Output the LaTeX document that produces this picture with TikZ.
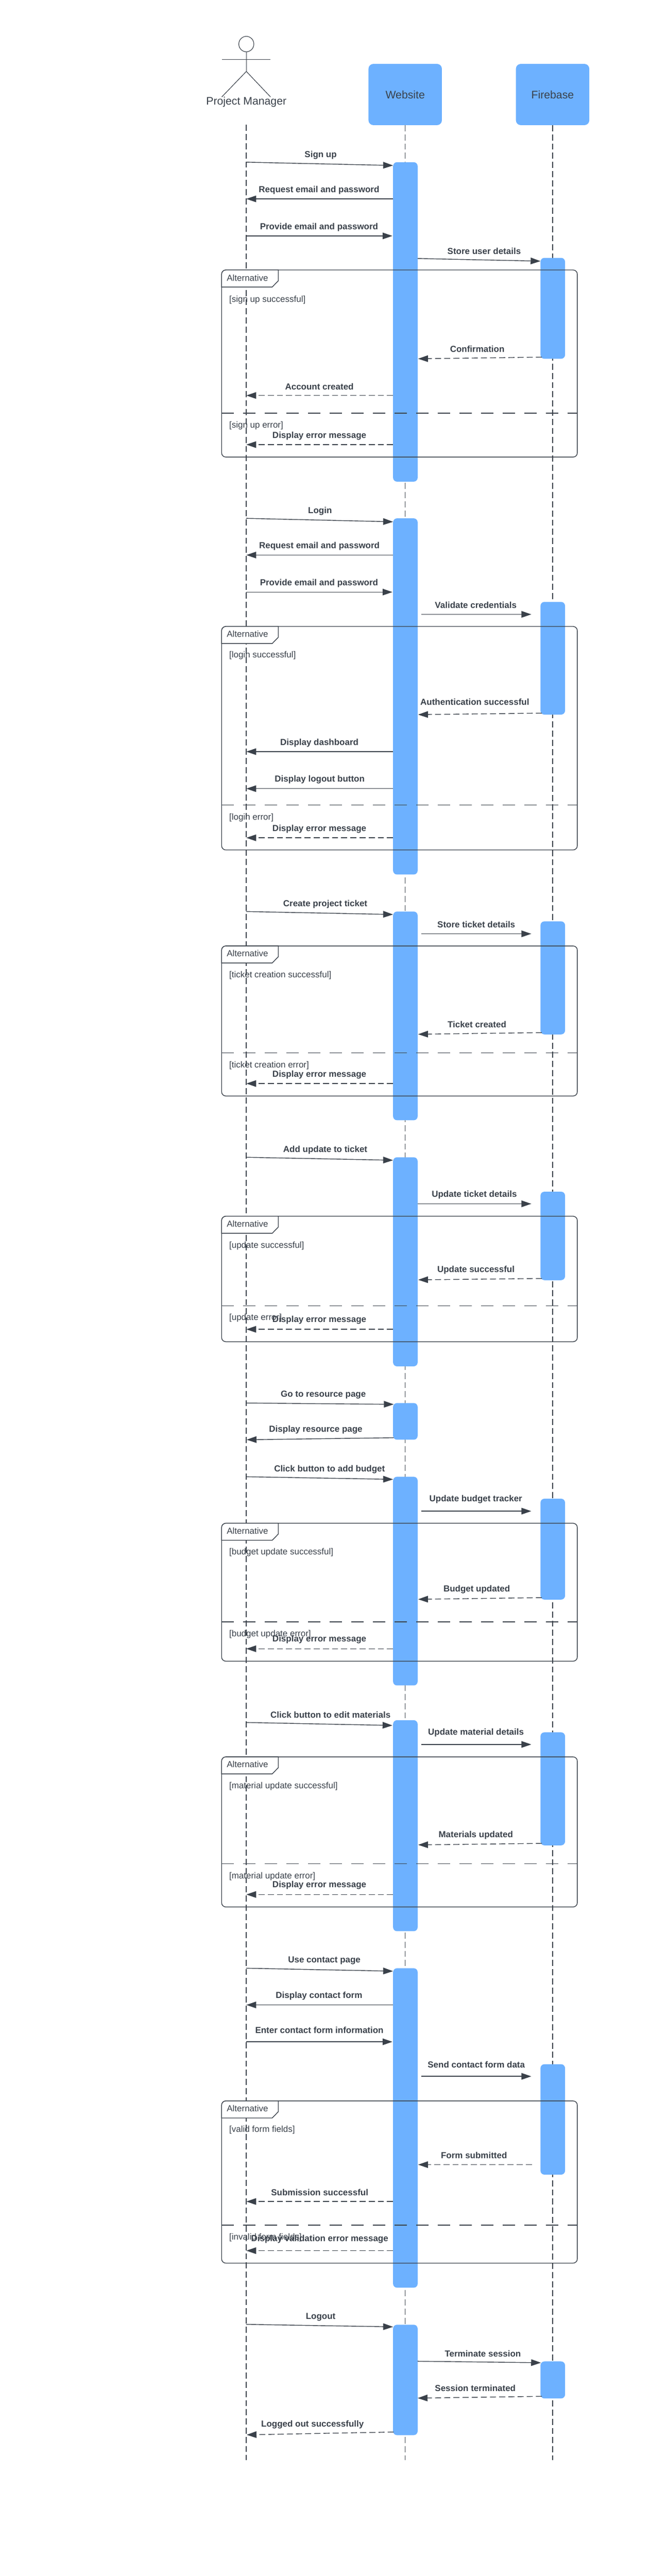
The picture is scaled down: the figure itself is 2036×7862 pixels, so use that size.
\documentclass[tikz,border=0pt]{standalone}
\usepackage{fontspec}
\setmainfont{Liberation Sans}
\usetikzlibrary{arrows.meta, shapes.geometric}
\definecolor{inkgrey}{HTML}{3A414A}
\definecolor{barblue}{HTML}{6DB1FF}
\tikzset{
  head/.style={rectangle, fill=barblue, rounded corners=7.5pt, minimum width=112pt, minimum height=93.5pt, inner sep=0pt, outer sep=0pt, text=inkgrey, font=\fontsize{16.7pt}{20pt}\selectfont},
  webbar/.style={rectangle, fill=barblue, rounded corners=6pt, minimum width=37.5pt, minimum height=#1*0.5pt, inner sep=0pt, outer sep=0pt},
  altframe/.style={rectangle, draw=inkgrey, line width=1.1pt, rounded corners=6.5pt, minimum width=543pt, minimum height=#1*0.5pt, inner sep=0pt, outer sep=0pt},
  alttab/.style={draw=inkgrey, fill=white, line width=1.1pt},
  altsplit/.style={draw=inkgrey, line width=1.1pt, dash pattern=on 19pt off 14pt},
  lifeline/.style={draw=inkgrey, line width=1pt, dash pattern=on 9.3pt off 4.7pt},
  actorline/.style={draw=inkgrey, line width=0.9pt},
  msg/.style={draw=inkgrey, line width=1.1pt, -{Triangle[length=15pt,width=10pt]}},
  reply/.style={msg, dash pattern=on 9.3pt off 4.7pt},
  msglabel/.style={inner sep=0pt, text=inkgrey, font=\fontsize{13.35pt}{16pt}\selectfont\bfseries},
  altlabel/.style={inner sep=0pt, anchor=west, text=inkgrey, font=\fontsize{13.35pt}{16pt}\selectfont},
}
\begin{document}
\begin{tikzpicture}[x=0.5pt, y=-0.5pt]
  \useasboundingbox (0,0) rectangle (2036,7862);

  \node [ellipse, draw=inkgrey, line width=0.9pt, minimum width=23pt, minimum height=23.5pt, inner sep=0pt, outer sep=0pt] (pmhead) at (752,134.5) {};
  \coordinate (pmarml) at (677,181);
  \coordinate (pmarmr) at (826,181);
  \coordinate (pmchest) at (752,181);
  \coordinate (pmhip) at (752,218);
  \coordinate (pmfootl) at (677,296);
  \coordinate (pmfootr) at (826,296);
  \draw [actorline] (pmhead) -- (pmhip);
  \draw [actorline] (pmarml) -- (pmarmr);
  \draw [actorline] (pmhip) -- (pmfootl);
  \draw [actorline] (pmhip) -- (pmfootr);
  \node [inner sep=0pt, text=inkgrey, font=\fontsize{16.7pt}{20pt}\selectfont] (pm) at (752,312) {Project Manager};
  \node [head] (web) at (1237,288.5) {Website};
  \node [head] (fire) at (1687,288.5) {Firebase};

  \coordinate (pmtop) at (751.5,381);
  \coordinate (pmend) at (751.5,7508);
  \coordinate (webend) at (1237,7508);
  \coordinate (fireend) at (1687,7508);
  \draw [lifeline] (pmtop) -- (pmend);
  \draw [lifeline] (web.south) -- (webend);
  \draw [lifeline] (fire.south) -- (fireend);

  \node [webbar=975] (w1) at (1237.5,982.5) {};
  \node [webbar=1087] (w2) at (1237.5,2125.5) {};
  \node [webbar=637] (w3) at (1237.5,3100.5) {};
  \node [webbar=638] (w4) at (1237.5,3851) {};
  \node [webbar=112] (w5) at (1237.5,4338) {};
  \node [webbar=637] (w6) at (1237.5,4825.5) {};
  \node [webbar=644] (w7) at (1237.5,5572) {};
  \node [webbar=975] (w8) at (1237.5,6494.5) {};
  \node [webbar=337] (w9) at (1237.5,7263.5) {};

  \node [webbar=308] (f1) at (1687.5,941) {};
  \node [webbar=344] (f2) at (1687.5,2009) {};
  \node [webbar=345] (f3) at (1687.5,2984.5) {};
  \node [webbar=270] (f4) at (1687.5,3772) {};
  \node [webbar=308] (f5) at (1687.5,4728) {};
  \node [webbar=345] (f6) at (1687.5,5459.5) {};
  \node [webbar=337] (f7) at (1687.5,6468.5) {};
  \node [webbar=113] (f8) at (1687.5,7263.5) {};

  \node [altframe=571] (a1) at (1219.5,1109.5) {};
  \node [altframe=682] (a2) at (1219.5,2253) {};
  \node [altframe=458] (a3) at (1219.5,3116) {};
  \node [altframe=383] (a4) at (1219.5,3903.5) {};
  \node [altframe=421] (a5) at (1219.5,4859.5) {};
  \node [altframe=458] (a6) at (1219.5,5591) {};
  \node [altframe=495] (a7) at (1219.5,6659.5) {};

  \draw [alttab] (a1.north west) ++(0,52) [rounded corners=6.5pt] -- ++(0,-52) [sharp corners] -- ++(173,0) -- ++(0,33) -- ++(-18.5,19) -- cycle;
  \draw [alttab] (a2.north west) ++(0,52) [rounded corners=6.5pt] -- ++(0,-52) [sharp corners] -- ++(173,0) -- ++(0,33) -- ++(-18.5,19) -- cycle;
  \draw [alttab] (a3.north west) ++(0,52) [rounded corners=6.5pt] -- ++(0,-52) [sharp corners] -- ++(173,0) -- ++(0,33) -- ++(-18.5,19) -- cycle;
  \draw [alttab] (a4.north west) ++(0,52) [rounded corners=6.5pt] -- ++(0,-52) [sharp corners] -- ++(173,0) -- ++(0,33) -- ++(-18.5,19) -- cycle;
  \draw [alttab] (a5.north west) ++(0,52) [rounded corners=6.5pt] -- ++(0,-52) [sharp corners] -- ++(173,0) -- ++(0,33) -- ++(-18.5,19) -- cycle;
  \draw [alttab] (a6.north west) ++(0,52) [rounded corners=6.5pt] -- ++(0,-52) [sharp corners] -- ++(173,0) -- ++(0,33) -- ++(-18.5,19) -- cycle;
  \draw [alttab] (a7.north west) ++(0,52) [rounded corners=6.5pt] -- ++(0,-52) [sharp corners] -- ++(173,0) -- ++(0,33) -- ++(-18.5,19) -- cycle;

  \draw [altsplit] (a1.west |- 0,1261) -- (a1.east |- 0,1261);
  \draw [altsplit] (a2.west |- 0,2457) -- (a2.east |- 0,2457);
  \draw [altsplit] (a3.west |- 0,3213) -- (a3.east |- 0,3213);
  \draw [altsplit] (a4.west |- 0,3985) -- (a4.east |- 0,3985);
  \draw [altsplit] (a5.west |- 0,4950) -- (a5.east |- 0,4950);
  \draw [altsplit] (a6.west |- 0,5688.5) -- (a6.east |- 0,5688.5);
  \draw [altsplit] (a7.west |- 0,6791) -- (a7.east |- 0,6791);

  \node [altlabel] (t1) at (692,848) {Alternative};
  \node [altlabel] (t2) at (692,1935) {Alternative};
  \node [altlabel] (t3) at (692,2909) {Alternative};
  \node [altlabel] (t4) at (692,3735) {Alternative};
  \node [altlabel] (t5) at (692,4672) {Alternative};
  \node [altlabel] (t6) at (692,5385) {Alternative};
  \node [altlabel] (t7) at (692,6435) {Alternative};

  \node [altlabel] (g11) at (699.5,914.6) {[sign up successful]};
  \node [altlabel] (g12) at (699.5,1299) {[sign up error]};
  \node [altlabel] (g21) at (699.5,2001) {[login successful]};
  \node [altlabel] (g22) at (699.5,2495.6) {[login error]};
  \node [altlabel] (g31) at (699.5,2976) {[ticket creation successful]};
  \node [altlabel] (g32) at (699.5,3252) {[ticket creation error]};
  \node [altlabel] (g41) at (699.5,3802) {[update successful]};
  \node [altlabel] (g42) at (699.5,4022) {[update error]};
  \node [altlabel] (g51) at (699.5,4738) {[budget update successful]};
  \node [altlabel] (g52) at (699.5,4988) {[budget update error]};
  \node [altlabel] (g61) at (699.5,5451) {[material update successful]};
  \node [altlabel] (g62) at (699.5,5726) {[material update error]};
  \node [altlabel] (g71) at (699.5,6501) {[valid form fields]};
  \node [altlabel] (g72) at (699.5,6829) {[invalid form fields]};

  \coordinate (s1) at (751.5,495);
  \coordinate (e1) at (1200,505);
  \draw [msg] (s1) -- (e1);
  \node [msglabel] (l1) at (979,473) {Sign up};

  \coordinate (s2) at (1200,607);
  \coordinate (e2) at (752,607);
  \draw [msg] (s2) -- (e2);
  \node [msglabel] (l2) at (974,580) {Request email and password};

  \coordinate (s3) at (752,720);
  \coordinate (e3) at (1198,720);
  \draw [msg] (s3) -- (e3);
  \node [msglabel] (l3) at (974,693) {Provide email and password};

  \coordinate (s4) at (1275,789);
  \coordinate (e4) at (1650,797);
  \draw [msg] (s4) -- (e4);
  \node [msglabel] (l4) at (1478,766) {Store user details};

  \coordinate (s5) at (1654.5,1090);
  \coordinate (e5) at (1276.5,1095);
  \draw [reply] (s5) -- (e5);
  \node [msglabel] (l5) at (1457,1065) {Confirmation};

  \coordinate (s6) at (1200,1207);
  \coordinate (e6) at (752,1207);
  \draw [reply] (s6) -- (e6);
  \node [msglabel] (l6) at (975,1180) {Account created};

  \coordinate (s7) at (1200,1357);
  \coordinate (e7) at (752,1357);
  \draw [reply] (s7) -- (e7);
  \node [msglabel] (l7) at (975,1330) {Display error message};

  \coordinate (s8) at (751.5,1582);
  \coordinate (e8) at (1200,1592.5);
  \draw [msg] (s8) -- (e8);
  \node [msglabel] (l8) at (977,1560) {Login};

  \coordinate (s9) at (1200,1694);
  \coordinate (e9) at (752,1694);
  \draw [msg] (s9) -- (e9);
  \node [msglabel] (l9) at (975,1667) {Request email and password};

  \coordinate (s10) at (752,1807);
  \coordinate (e10) at (1198,1807);
  \draw [msg] (s10) -- (e10);
  \node [msglabel] (l10) at (974,1780) {Provide email and password};

  \coordinate (s11) at (1286,1875);
  \coordinate (e11) at (1622,1875);
  \draw [msg] (s11) -- (e11);
  \node [msglabel] (l11) at (1452.5,1847) {Validate credentials};

  \coordinate (s12) at (1654.5,2176.5);
  \coordinate (e12) at (1276.5,2181);
  \draw [reply] (s12) -- (e12);
  \node [msglabel] (l12) at (1449.5,2143) {Authentication successful};

  \coordinate (s13) at (1200,2294);
  \coordinate (e13) at (752,2294);
  \draw [msg] (s13) -- (e13);
  \node [msglabel] (l13) at (975,2267) {Display dashboard};

  \coordinate (s14) at (1200,2407);
  \coordinate (e14) at (752,2407);
  \draw [msg] (s14) -- (e14);
  \node [msglabel] (l14) at (976,2379) {Display logout button};

  \coordinate (s15) at (1200,2557);
  \coordinate (e15) at (752,2557);
  \draw [reply] (s15) -- (e15);
  \node [msglabel] (l15) at (975,2530) {Display error message};

  \coordinate (s16) at (751.5,2782);
  \coordinate (e16) at (1200,2791);
  \draw [msg] (s16) -- (e16);
  \node [msglabel] (l16) at (993,2760) {Create project ticket};

  \coordinate (s17) at (1286,2850);
  \coordinate (e17) at (1622,2850);
  \draw [msg] (s17) -- (e17);
  \node [msglabel] (l17) at (1454,2822) {Store ticket details};

  \coordinate (s18) at (1654.5,3151.5);
  \coordinate (e18) at (1276.5,3156.5);
  \draw [reply] (s18) -- (e18);
  \node [msglabel] (l18) at (1456,3127) {Ticket created};

  \coordinate (s19) at (1200,3307);
  \coordinate (e19) at (752,3307);
  \draw [reply] (s19) -- (e19);
  \node [msglabel] (l19) at (975,3280) {Display error message};

  \coordinate (s20) at (751.5,3532);
  \coordinate (e20) at (1200,3541);
  \draw [msg] (s20) -- (e20);
  \node [msglabel] (l20) at (993,3510) {Add update to ticket};

  \coordinate (s21) at (1275,3674);
  \coordinate (e21) at (1622,3674);
  \draw [msg] (s21) -- (e21);
  \node [msglabel] (l21) at (1448,3647) {Update ticket details};

  \coordinate (s22) at (1654.5,3902);
  \coordinate (e22) at (1276.5,3906);
  \draw [reply] (s22) -- (e22);
  \node [msglabel] (l22) at (1453,3876) {Update successful};

  \coordinate (s23) at (1200,4057);
  \coordinate (e23) at (752,4057);
  \draw [reply] (s23) -- (e23);
  \node [msglabel] (l23) at (975,4029) {Display error message};

  \coordinate (s24) at (751.5,4282);
  \coordinate (e24) at (1202,4286);
  \draw [msg] (s24) -- (e24);
  \node [msglabel] (l24) at (987,4257) {Go to resource page};

  \coordinate (s25) at (1202,4388);
  \coordinate (e25) at (753,4394);
  \draw [msg] (s25) -- (e25);
  \node [msglabel] (l25) at (964,4364) {Display resource page};

  \coordinate (s26) at (751.5,4507);
  \coordinate (e26) at (1200,4515);
  \draw [msg] (s26) -- (e26);
  \node [msglabel] (l26) at (1006,4484) {Click button to add budget};

  \coordinate (s27) at (1286,4612);
  \coordinate (e27) at (1622,4612);
  \draw [msg] (s27) -- (e27);
  \node [msglabel] (l27) at (1452.5,4576) {Update budget tracker};

  \coordinate (s28) at (1654.5,4876);
  \coordinate (e28) at (1276.5,4881);
  \draw [reply] (s28) -- (e28);
  \node [msglabel] (l28) at (1455.5,4851) {Budget updated};

  \coordinate (s29) at (1200,5032);
  \coordinate (e29) at (752,5032);
  \draw [reply] (s29) -- (e29);
  \node [msglabel] (l29) at (975,5004) {Display error message};

  \coordinate (s30) at (751.5,5257);
  \coordinate (e30) at (1198,5266);
  \draw [msg] (s30) -- (e30);
  \node [msglabel] (l30) at (1009,5234) {Click button to edit materials};

  \coordinate (s31) at (1286,5324);
  \coordinate (e31) at (1622,5324);
  \draw [msg] (s31) -- (e31);
  \node [msglabel] (l31) at (1453,5288) {Update material details};

  \coordinate (s32) at (1654.5,5626);
  \coordinate (e32) at (1276.5,5630.5);
  \draw [reply] (s32) -- (e32);
  \node [msglabel] (l32) at (1452.5,5601) {Materials updated};

  \coordinate (s33) at (1200,5782);
  \coordinate (e33) at (752,5782);
  \draw [reply] (s33) -- (e33);
  \node [msglabel] (l33) at (975,5753.5) {Display error message};

  \coordinate (s34) at (751.5,6007);
  \coordinate (e34) at (1200,6016);
  \draw [msg] (s34) -- (e34);
  \node [msglabel] (l34) at (990,5984) {Use contact page};

  \coordinate (s35) at (1200,6119);
  \coordinate (e35) at (752,6119);
  \draw [msg] (s35) -- (e35);
  \node [msglabel] (l35) at (974,6091) {Display contact form};

  \coordinate (s36) at (752,6231.5);
  \coordinate (e36) at (1198,6231.5);
  \draw [msg] (s36) -- (e36);
  \node [msglabel] (l36) at (975,6196) {Enter contact form information};

  \coordinate (s37) at (1286,6337);
  \coordinate (e37) at (1622,6337);
  \draw [msg] (s37) -- (e37);
  \node [msglabel] (l37) at (1454,6301) {Send contact form data};

  \coordinate (s38) at (1624,6606.5);
  \coordinate (e38) at (1276.5,6606.5);
  \draw [reply] (s38) -- (e38);
  \node [msglabel] (l38) at (1447,6578) {Form submitted};

  \coordinate (s39) at (1200,6719);
  \coordinate (e39) at (752,6719);
  \draw [reply] (s39) -- (e39);
  \node [msglabel] (l39) at (976,6691) {Submission successful};

  \coordinate (s40) at (1200,6869);
  \coordinate (e40) at (752,6869);
  \draw [reply] (s40) -- (e40);
  \node [msglabel] (l40) at (976,6833.5) {Display validation error message};

  \coordinate (s41) at (751.5,7094);
  \coordinate (e41) at (1200,7101.5);
  \draw [msg] (s41) -- (e41);
  \node [msglabel] (l41) at (979,7072) {Logout};

  \coordinate (s42) at (1275,7206.5);
  \coordinate (e42) at (1651.5,7211);
  \draw [msg] (s42) -- (e42);
  \node [msglabel] (l42) at (1474,7183) {Terminate session};

  \coordinate (s43) at (1654.5,7313.5);
  \coordinate (e43) at (1275,7319);
  \draw [reply] (s43) -- (e43);
  \node [msglabel] (l43) at (1451,7289) {Session terminated};

  \coordinate (s44) at (1202,7422.5);
  \coordinate (e44) at (753,7431);
  \draw [reply] (s44) -- (e44);
  \node [msglabel] (l44) at (954,7400) {Logged out successfully};
\end{tikzpicture}
\end{document}
